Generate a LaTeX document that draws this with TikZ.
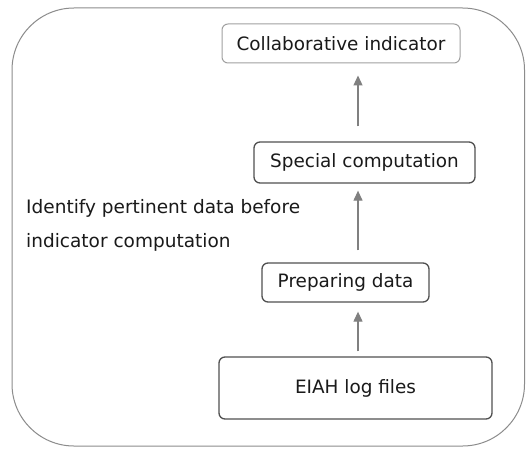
\documentclass[tikz,border=0pt]{standalone}
\usepackage{fontspec}
\setmainfont{DejaVu Sans}
\usetikzlibrary{arrows.meta}
\definecolor{frameline}{HTML}{8C8C8C}
\definecolor{lightline}{HTML}{A0A0A0}
\definecolor{darkline}{HTML}{505050}
\definecolor{arrowgray}{HTML}{808080}
\definecolor{inktext}{HTML}{1A1A1A}
\tikzset{
  stagebox/.style={draw=darkline, line width=1.3pt, rounded corners=6pt,
    inner sep=0pt, text=inktext, font=\fontsize{18.4}{22}\selectfont},
  softbox/.style={stagebox, draw=lightline, line width=1pt},
  flow/.style={draw=arrowgray, line width=1.2pt,
    -{Triangle[width=9pt,length=10pt]}},
  notetext/.style={inner sep=0pt, text=inktext, font=\fontsize{18.5}{22}\selectfont}
}
\begin{document}
\begin{tikzpicture}[x=1pt,y=-1pt]
  \useasboundingbox (0,0) rectangle (526,449);
  \fill[white] (0,0) rectangle (526,449);
  % outer frame
  \draw[frameline, line width=1pt, rounded corners=62pt] (12,8) rectangle (524.5,446);

  % stages, bottom to top
  \node[stagebox, minimum width=273pt, minimum height=62pt] (eiah) at (355.5,388) {EIAH log files};
  \node[stagebox, minimum width=167pt, minimum height=39pt] (prep) at (345.5,282.5) {Preparing data};
  \node[stagebox, minimum width=221pt, minimum height=41pt] (spec) at (364.5,162.5) {Special computation};
  \node[softbox, minimum width=238pt, minimum height=39pt] (coll) at (341,43.5) {Collaborative indicator};

  % column of the arrows
  \coordinate (col) at (358,0);
  \draw[flow, shorten <=5pt, shorten >=9pt] (eiah.north -| col) -- (prep.south -| col);
  \draw[flow, shorten <=12pt, shorten >=7pt] (prep.north -| col) -- (spec.south -| col);
  \draw[flow, shorten <=15pt, shorten >=12pt] (spec.north -| col) -- (coll.south -| col);

  % side note
  \node[notetext, anchor=base west] (note1) at (26,213) {Identify pertinent data before};
  \node[notetext, anchor=base west] (note2) at (26,247) {indicator computation};
\end{tikzpicture}
\end{document}
